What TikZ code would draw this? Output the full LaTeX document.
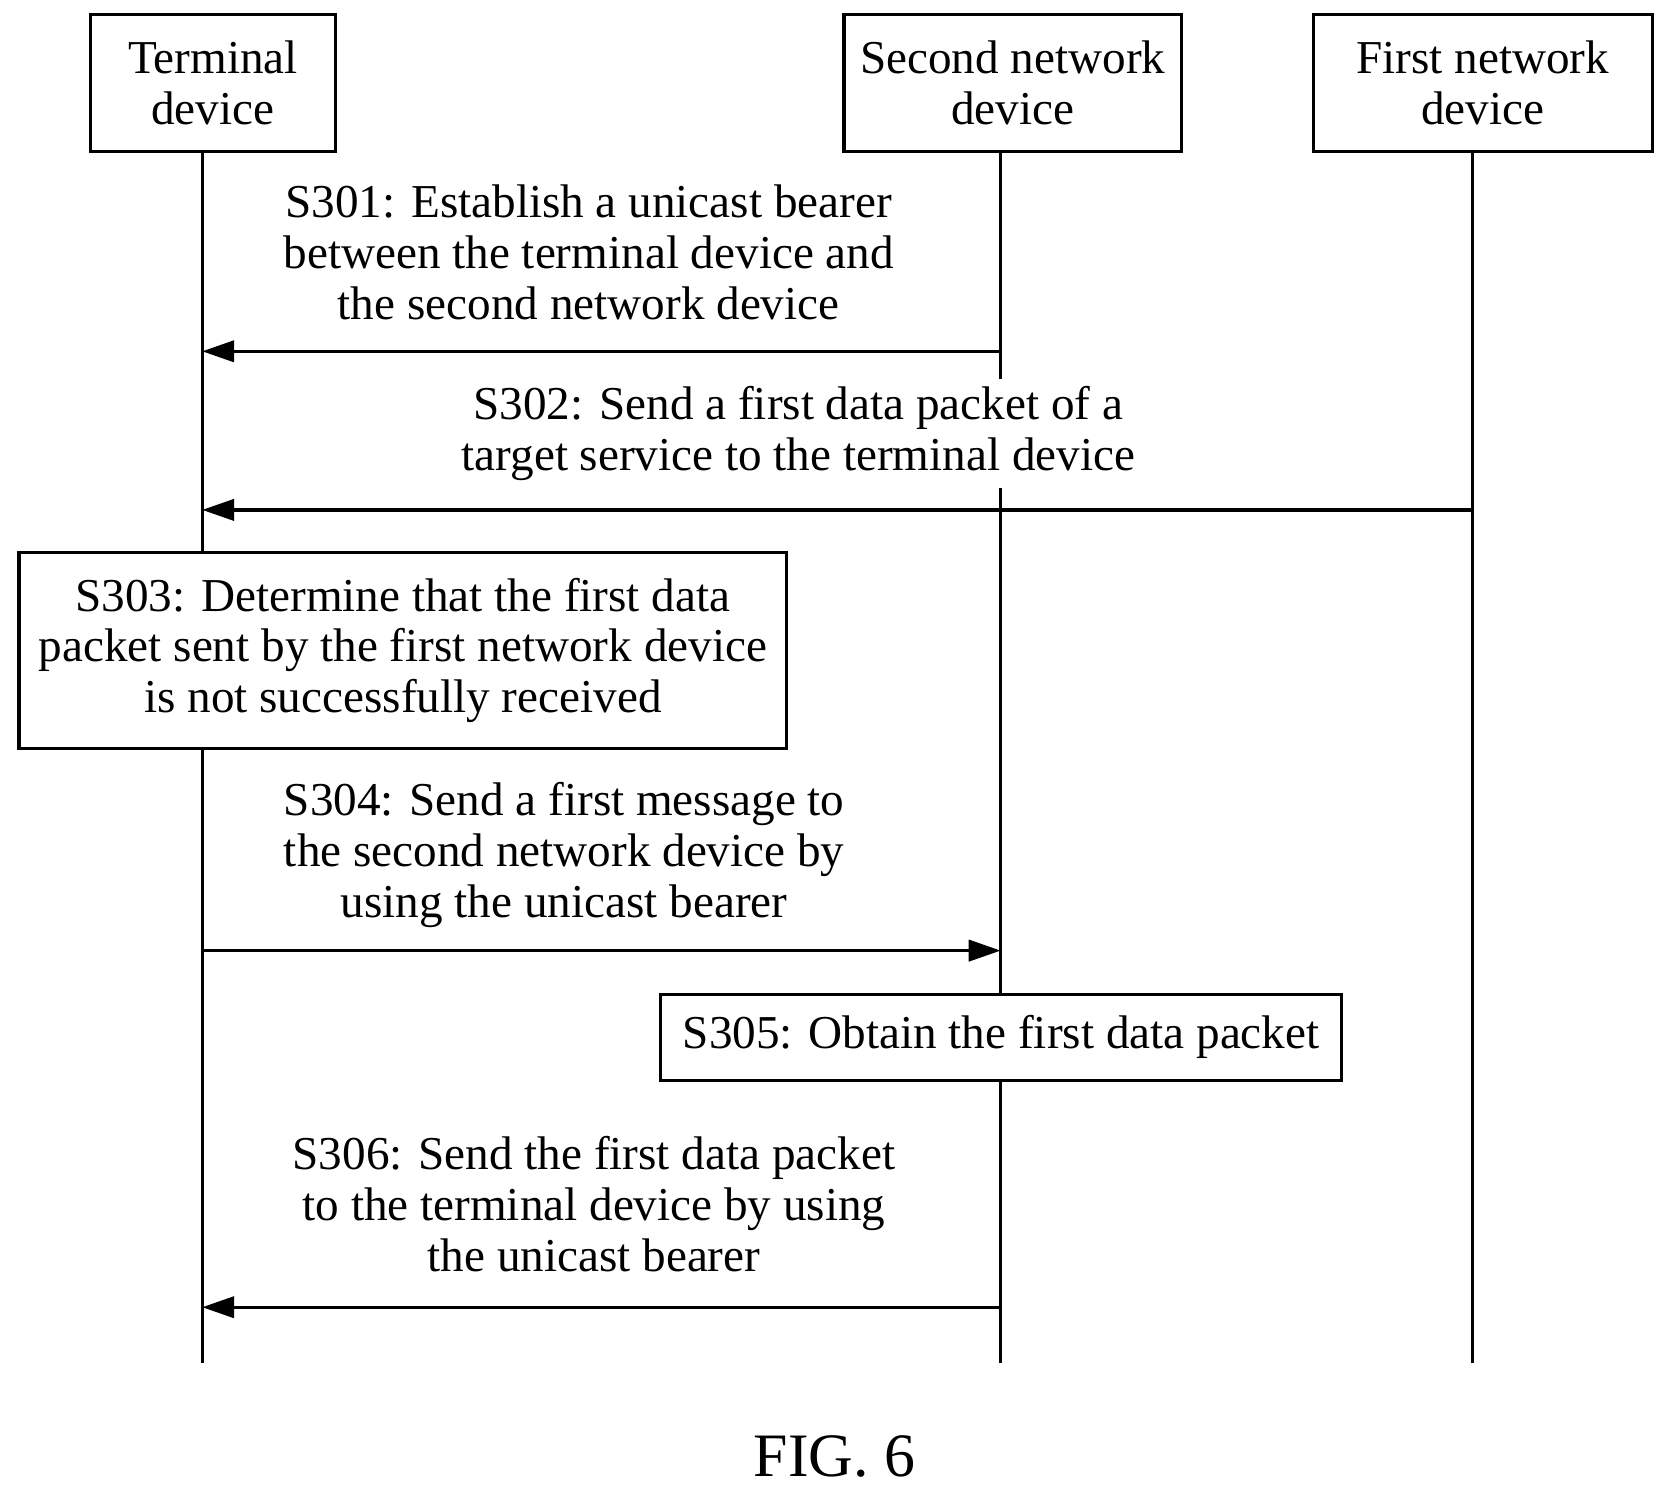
\documentclass[tikz,border=0pt]{standalone}
\usepackage{fontspec}
\setmainfont{Liberation Serif}
\usetikzlibrary{arrows.meta}

\tikzset{
  box/.style={draw, line width=0.85pt, fill=white, align=center, inner sep=0pt},
  msg/.style={fill=white, align=center, inner sep=2pt},
  life/.style={line width=0.85pt},
  call/.style={line width=0.85pt, -{Triangle[length=0.3cm,width=0.2cm]}}
}

\begin{document}
\begin{tikzpicture}[x=0.01cm, y=-0.01cm, font=\fontsize{12.6}{13.6}\selectfont]
  \useasboundingbox (0,0) rectangle (1566,1399);
  % actors
  \node[box, minimum width=2.30cm, minimum height=1.28cm] (term) at (200,78) {Terminal\\device};
  \node[box, minimum width=3.17cm, minimum height=1.28cm] (sec) at (951.5,78) {Second network\\device};
  \node[box, minimum width=3.18cm, minimum height=1.28cm] (fir) at (1393,78) {First network\\device};
  % lifelines
  \coordinate (termend) at (190,1280);
  \coordinate (secend) at (940,1280);
  \coordinate (firend) at (1383,1280);
  \draw[life] (190,142) -- (termend);
  \draw[life] (940,142) -- (secend);
  \draw[life] (1383,142) -- (firend);
  % message ends
  \foreach \n/\y in {1/330, 2/479, 4/893, 6/1228} {
    \coordinate (t\n) at (190,\y);
    \coordinate (s\n) at (940,\y);
    \coordinate (f\n) at (1383,\y);
  }
  \draw[call] (s1) -- (t1);
  \node[msg] (m1) at (553,237) {S301: Establish a unicast bearer\\between the terminal device and\\the second network device};
  \draw[call] (f2) -- (t2);
  \node[msg] (m2) at (750,407) {S302: Send a first data packet of a\\target service to the terminal device};
  \node[box, minimum width=7.21cm, minimum height=1.84cm] (st3) at (378.5,611) {S303: Determine that the first data\\packet sent by the first network device\\is not successfully received};
  \draw[call] (t4) -- (s4);
  \node[msg] (m4) at (530,803) {S304: Send a first message to\\the second network device by\\using the unicast bearer};
  \node[box, minimum width=6.39cm, minimum height=0.81cm] (st5) at (940.5,974.5) {S305: Obtain the first data packet};
  \draw[call] (s6) -- (t6);
  \node[msg] (m6) at (558,1131) {S306: Send the first data packet\\to the terminal device by using\\the unicast bearer};
  \node[font=\fontsize{16.5}{19}\selectfont] (fig) at (784,1368) {FIG. 6};
\end{tikzpicture}
\end{document}
